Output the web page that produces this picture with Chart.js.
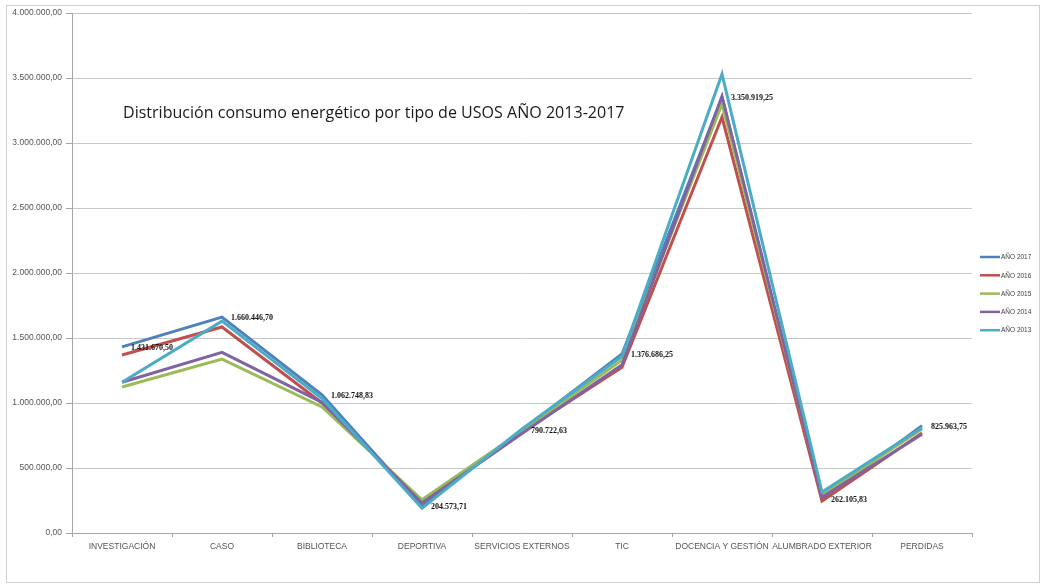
<!DOCTYPE html>
<html>
<head>
<meta charset="utf-8">
<script src="https://cdn.jsdelivr.net/npm/chart.js@4.4.1/dist/chart.umd.min.js"></script>
<style>
  html, body { margin: 0; padding: 0; background: #ffffff; }
  #wrap { position: relative; width: 1046px; height: 585px; }
</style>
</head>
<body>
<div id="wrap"><canvas id="c" width="1046" height="585"></canvas></div>
<script>
const categories = ['INVESTIGACIÓN', 'CASO', 'BIBLIOTECA', 'DEPORTIVA', 'SERVICIOS EXTERNOS', 'TIC', 'DOCENCIA Y GESTIÓN', 'ALUMBRADO EXTERIOR', 'PERDIDAS'];
const seriesNames = ['AÑO 2017', 'AÑO 2016', 'AÑO 2015', 'AÑO 2014', 'AÑO 2013'];
const values2017 = [1431670.50, 1660446.70, 1062748.83, 204573.71, 790722.63, 1376686.25, 3350919.25, 262105.83, 825963.75];
const values2016 = [1369000, 1585000, 1000000, 235000, 775000, 1275000, 3200000, 245000, 770000];
const values2015 = [1123000, 1338000, 970000, 255000, 785000, 1330000, 3300000, 290000, 800000];
const values2014 = [1160000, 1390000, 1005000, 230000, 765000, 1295000, 3360000, 275000, 760000];
const values2013 = [1160000, 1630000, 1035000, 190000, 800000, 1360000, 3530000, 315000, 810000];
const yTicks = [0, 500000, 1000000, 1500000, 2000000, 2500000, 3000000, 3500000, 4000000];
const titleText = 'Distribución consumo energético por tipo de USOS AÑO 2013-2017';

const colors = ['#4F81BD', '#C0504D', '#9BBB59', '#8064A2', '#4BACC6'];
const allValues = [values2017, values2016, values2015, values2014, values2013];

function fmtES(v) {
  const neg = v < 0; v = Math.abs(v);
  const fixed = v.toFixed(2);
  let [ip, dp] = fixed.split('.');
  ip = ip.replace(/\B(?=(\d{3})+(?!\d))/g, '.');
  return (neg ? '-' : '') + ip + ',' + dp;
}

const decorPlugin = {
  id: 'decor',
  beforeDraw(chart) {
    const ctx = chart.ctx;
    ctx.save();
    ctx.fillStyle = '#ffffff';
    ctx.fillRect(0, 0, chart.width, chart.height);
    ctx.strokeStyle = '#cfcfcf';
    ctx.lineWidth = 1;
    ctx.strokeRect(6.5, 5.5, 1033, 577);
    ctx.restore();
  },
  afterDraw(chart) {
    const ctx = chart.ctx;
    const area = chart.chartArea;
    ctx.save();
    // title
    let size = 16;
    ctx.font = size + 'px "Open Sans", "Liberation Sans", sans-serif';
    const w = ctx.measureText(titleText).width;
    size = size * 502 / w;
    ctx.font = size + 'px "Open Sans", "Liberation Sans", sans-serif';
    ctx.fillStyle = '#1a1a1a';
    ctx.textAlign = 'left';
    ctx.textBaseline = 'middle';
    ctx.fillText(titleText, area.left + 51, 113);

    // data labels for first series
    const meta = chart.getDatasetMeta(0);
    ctx.font = 'bold 8px "Liberation Serif", "DejaVu Serif", serif';
    ctx.fillStyle = '#111111';
    meta.data.forEach((pt, i) => {
      ctx.fillText(fmtES(values2017[i]), pt.x + 9, pt.y + 1);
    });

    // legend
    ctx.font = '6.5px "Liberation Sans", sans-serif';
    chart.data.datasets.forEach((ds, i) => {
      const y = 257 + i * 18.3;
      ctx.strokeStyle = ds.borderColor;
      ctx.lineWidth = 2.5;
      ctx.beginPath();
      ctx.moveTo(980, y);
      ctx.lineTo(1000, y);
      ctx.stroke();
      ctx.fillStyle = '#404040';
      ctx.fillText(ds.label, 1001, y + 0.5);
    });
    ctx.restore();
  }
};

const datasets = allValues.map((vals, i) => ({
  label: seriesNames[i],
  data: vals,
  borderColor: colors[i],
  backgroundColor: colors[i],
  borderWidth: 3,
  pointRadius: 0,
  tension: 0,
  fill: false,
  order: 4 - i
}));

new Chart(document.getElementById('c'), {
  type: 'line',
  data: { labels: categories, datasets },
  options: {
    responsive: false,
    animation: false,
    devicePixelRatio: 1,
    layout: { padding: { top: 13, right: 74, left: 0, bottom: 0 } },
    plugins: { legend: { display: false }, tooltip: { enabled: false }, title: { display: false } },
    scales: {
      x: {
        offset: true,
        grid: { display: true, drawOnChartArea: false, drawTicks: true, tickLength: 4, offset: true, color: '#a6a6a6' },
        border: { display: true, color: '#a6a6a6', width: 1 },
        ticks: { font: { size: 8.5, family: '"Liberation Sans", sans-serif' }, color: '#555555', padding: 5, maxRotation: 0, autoSkip: false },
        afterFit(scale) { scale.height = 52; }
      },
      y: {
        min: 0,
        max: 4000000,
        afterBuildTicks(scale) { scale.ticks = yTicks.map(v => ({ value: v })); },
        grid: { color: '#c8c8c8', lineWidth: 1, drawTicks: true, tickLength: 6, tickColor: '#a6a6a6' },
        border: { display: true, color: '#a6a6a6', width: 1 },
        ticks: { font: { size: 8.5, family: '"Liberation Sans", sans-serif' }, color: '#555555', padding: 4, callback: v => fmtES(v) },
        afterFit(scale) { scale.width = 72; }
      }
    }
  },
  plugins: [decorPlugin]
});
</script>
</body>
</html>
